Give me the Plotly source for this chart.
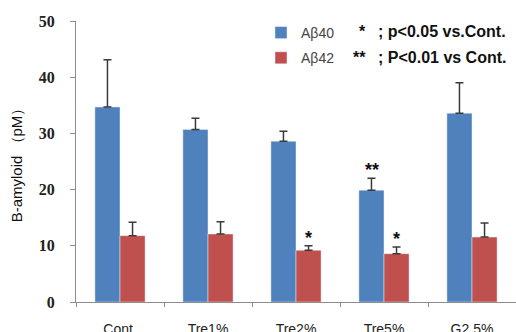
import plotly.graph_objects as go

categories = ["Cont.", "Tre1%", "Tre2%", "Tre5%", "G2.5%"]
ab40 = [34.7, 30.7, 28.6, 19.9, 33.6]
ab40_err = [8.4, 2.0, 1.8, 2.1, 5.4]
ab42 = [11.8, 12.1, 9.2, 8.6, 11.55]
ab42_err = [2.4, 2.2, 0.8, 1.2, 2.5]
ab40_sig = ["", "", "", "**", ""]
ab42_sig = ["", "", "*", "*", ""]
y_ticks = [0, 10, 20, 30, 40, 50]

BLUE = "#4F81BD"
RED = "#C0504D"
ERR = "#3a3a3a"

fig = go.Figure()
fig.add_trace(go.Bar(
    name="Aβ40", x=categories, y=ab40, marker_color=BLUE,
    error_y=dict(type="data", array=ab40_err, arrayminus=[0]*5, symmetric=False,
                 color=ERR, thickness=1.5, width=4),
    legendgroup="a",
))
fig.add_trace(go.Bar(
    name="Aβ42", x=categories, y=ab42, marker_color=RED,
    error_y=dict(type="data", array=ab42_err, arrayminus=[0]*5, symmetric=False,
                 color=ERR, thickness=1.5, width=4),
    legendgroup="b",
))

star_font = dict(family="Liberation Sans", size=18, color="#111", weight="bold")
annotations = []
for cat, v, e, s in zip(categories, ab40, ab40_err, ab40_sig):
    if s:
        annotations.append(dict(x=cat, y=v + e, xref="x", yref="y", text=s, showarrow=False,
                                xshift=-12.5, yanchor="bottom", yshift=-4, font=star_font))
for cat, v, e, s in zip(categories, ab42, ab42_err, ab42_sig):
    if s:
        annotations.append(dict(x=cat, y=v + e, xref="x", yref="y", text=s, showarrow=False,
                                xshift=12.5, yanchor="bottom", yshift=-4, font=star_font))

note_font = dict(family="Liberation Sans", size=16, color="#111", weight="bold")
annotations += [
    dict(x=368, y=332 - 32, xref="paper", yref="paper", text="*", showarrow=False,
         xanchor="right", yanchor="middle", font=note_font),
    dict(x=376, y=332 - 32, xref="paper", yref="paper", text="; p<0.05 vs.Cont.",
         showarrow=False, xanchor="left", yanchor="middle", font=note_font),
    dict(x=368, y=332 - 57, xref="paper", yref="paper", text="**", showarrow=False,
         xanchor="right", yanchor="middle", font=note_font),
    dict(x=376, y=332 - 57, xref="paper", yref="paper", text="; P<0.01 vs Cont.",
         showarrow=False, xanchor="left", yanchor="middle", font=note_font),
]

L, R, T, B = 76, 0, 21, 30
W, H = 516, 332
for a in annotations:
    if a["xref"] == "paper":
        a["x"] = (a["x"] - L) / (W - L - R)
        a["y"] = (a["y"] - B) / (H - T - B)

fig.update_layout(
    width=W, height=H,
    margin=dict(l=L, r=R, t=T, b=B, autoexpand=False),
    plot_bgcolor="white", paper_bgcolor="white",
    barmode="group", bargap=0.43, bargroupgap=0,
    font=dict(family="Liberation Sans", color="#222"),
    showlegend=True,
    legend=dict(x=(261 - L) / (W - L), y=(H - 17 - B) / (H - T - B), xanchor="left", yanchor="top",
                bgcolor="rgba(0,0,0,0)", font=dict(size=14, color="#444", family="Liberation Sans"),
                traceorder="grouped", tracegroupgap=4, itemwidth=30),
    annotations=annotations,
)
fig.update_xaxes(
    showline=True, linecolor="#8c8c8c", linewidth=1,
    ticks="outside", tickson="boundaries", ticklen=4, tickcolor="#8c8c8c",
    tickfont=dict(family="Liberation Sans", size=14, color="#222"),
    ticklabelstandoff=14,
    range=[-0.5, 4.5],
)
fig.update_yaxes(
    range=[0, 50], tickvals=y_ticks, showgrid=False, zeroline=False,
    showline=True, linecolor="#8c8c8c", linewidth=1,
    ticks="outside", ticklen=5, tickcolor="#8c8c8c",
    tickfont=dict(family="Liberation Serif", size=16, color="#222", weight="bold"),
    ticklabelstandoff=12,
    title=dict(text="B-amyloid （pM）", standoff=12,
               font=dict(family="Liberation Sans", size=15, color="#111")),
)

fig.write_html("out.html", config={"displayModeBar": False},
               post_script="document.body.style.margin='0';document.body.style.overflow='hidden';")
